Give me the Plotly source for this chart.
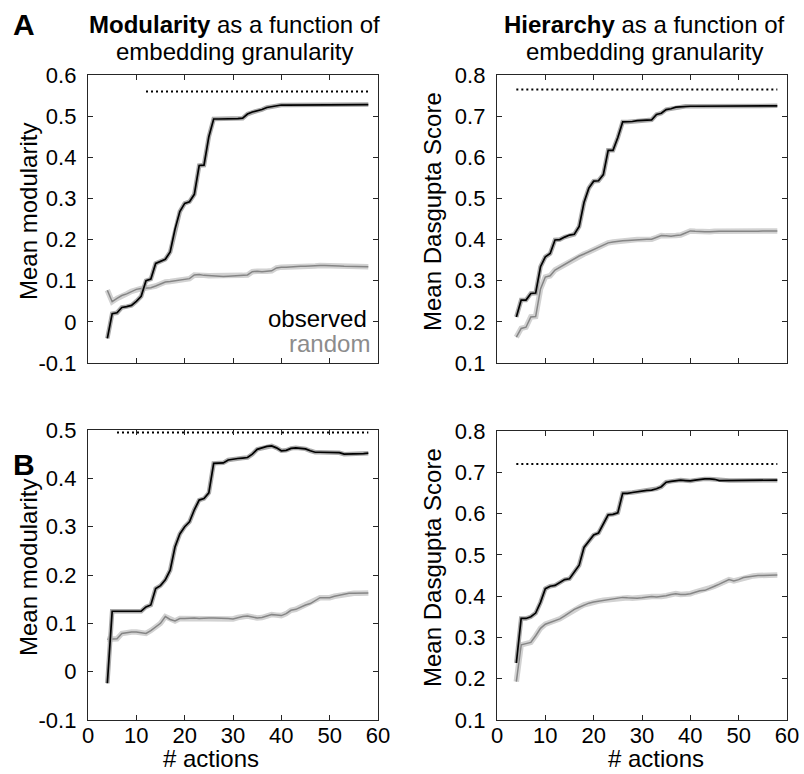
import plotly.graph_objects as go

W, H = 804, 774

# ---------------- data ----------------
actions = list(range(4, 59))  # 4..58

mod_a_observed = [-0.040, 0.020, 0.022, 0.035, 0.037, 0.040, 0.050, 0.062, 0.100, 0.104,
                  0.142, 0.148, 0.152, 0.170, 0.225, 0.268, 0.288, 0.292, 0.310, 0.380,
                  0.381, 0.450, 0.493, 0.493, 0.493, 0.493, 0.494, 0.494, 0.495, 0.505,
                  0.510, 0.513, 0.516, 0.521, 0.523, 0.526, 0.527, 0.527, 0.527, 0.527,
                  0.527, 0.527, 0.527, 0.527, 0.527, 0.527, 0.527, 0.527, 0.527, 0.527,
                  0.527, 0.528, 0.528, 0.528, 0.528]
mod_a_random = [0.077, 0.049, 0.057, 0.064, 0.068, 0.074, 0.079, 0.081, 0.082, 0.083,
                0.087, 0.092, 0.097, 0.098, 0.100, 0.102, 0.103, 0.105, 0.114, 0.115,
                0.113, 0.112, 0.112, 0.111, 0.110, 0.111, 0.112, 0.112, 0.113, 0.114,
                0.122, 0.123, 0.122, 0.123, 0.124, 0.131, 0.133, 0.133, 0.134, 0.134,
                0.135, 0.135, 0.136, 0.136, 0.137, 0.137, 0.137, 0.136, 0.136, 0.135,
                0.135, 0.135, 0.134, 0.134, 0.134]

hier_a_observed = [0.212, 0.253, 0.253, 0.269, 0.270, 0.334, 0.358, 0.366, 0.399, 0.400,
                   0.406, 0.411, 0.413, 0.432, 0.490, 0.525, 0.542, 0.543, 0.558, 0.617,
                   0.617, 0.648, 0.686, 0.686, 0.687, 0.689, 0.690, 0.690, 0.691, 0.704,
                   0.707, 0.716, 0.718, 0.722, 0.723, 0.724, 0.724, 0.724, 0.724, 0.724,
                   0.724, 0.724, 0.724, 0.724, 0.724, 0.724, 0.724, 0.724, 0.724, 0.724,
                   0.724, 0.725, 0.725, 0.725, 0.725]
hier_a_random = [0.163, 0.184, 0.187, 0.212, 0.213, 0.280, 0.309, 0.312, 0.326, 0.333,
                 0.340, 0.347, 0.354, 0.360, 0.365, 0.370, 0.376, 0.381, 0.386, 0.392,
                 0.394, 0.396, 0.397, 0.398, 0.399, 0.400, 0.400, 0.401, 0.401, 0.405,
                 0.410, 0.409, 0.408, 0.410, 0.411, 0.416, 0.421, 0.420, 0.419, 0.419,
                 0.419, 0.420, 0.420, 0.420, 0.420, 0.420, 0.419, 0.419, 0.420, 0.420,
                 0.420, 0.421, 0.421, 0.421, 0.421]

mod_b_observed = [-0.024, 0.125, 0.125, 0.125, 0.125, 0.125, 0.124, 0.125, 0.134, 0.138,
                  0.172, 0.178, 0.190, 0.210, 0.258, 0.285, 0.300, 0.310, 0.335, 0.355,
                  0.358, 0.370, 0.431, 0.431, 0.432, 0.438, 0.440, 0.441, 0.442, 0.443,
                  0.450, 0.460, 0.463, 0.466, 0.467, 0.463, 0.457, 0.458, 0.462, 0.463,
                  0.462, 0.461, 0.457, 0.454, 0.454, 0.454, 0.454, 0.454, 0.453, 0.450,
                  0.450, 0.450, 0.450, 0.451, 0.452]
mod_b_random = [0.067, 0.068, 0.068, 0.079, 0.081, 0.082, 0.082, 0.080, 0.079, 0.085,
                0.093, 0.100, 0.114, 0.108, 0.105, 0.110, 0.110, 0.111, 0.111, 0.110,
                0.111, 0.111, 0.111, 0.111, 0.110, 0.110, 0.109, 0.112, 0.114, 0.115,
                0.113, 0.111, 0.112, 0.115, 0.118, 0.117, 0.116, 0.120, 0.127, 0.129,
                0.134, 0.138, 0.141, 0.147, 0.153, 0.153, 0.153, 0.156, 0.158, 0.160,
                0.162, 0.162, 0.162, 0.162, 0.163]

hier_b_observed = [0.238, 0.346, 0.346, 0.350, 0.359, 0.385, 0.418, 0.424, 0.426, 0.432,
                   0.440, 0.442, 0.458, 0.475, 0.518, 0.532, 0.548, 0.553, 0.575, 0.597,
                   0.598, 0.602, 0.649, 0.649, 0.651, 0.653, 0.655, 0.656, 0.657, 0.660,
                   0.665, 0.676, 0.678, 0.680, 0.681, 0.680, 0.679, 0.681, 0.683, 0.684,
                   0.684, 0.683, 0.680, 0.680, 0.680, 0.680, 0.680, 0.680, 0.681, 0.681,
                   0.681, 0.680, 0.680, 0.681, 0.681]
hier_b_random = [0.193, 0.282, 0.285, 0.288, 0.304, 0.322, 0.332, 0.336, 0.340, 0.345,
                 0.352, 0.360, 0.368, 0.373, 0.379, 0.383, 0.386, 0.388, 0.390, 0.391,
                 0.393, 0.395, 0.397, 0.396, 0.395, 0.395, 0.396, 0.398, 0.399, 0.398,
                 0.399, 0.401, 0.404, 0.406, 0.404, 0.404, 0.406, 0.410, 0.413, 0.414,
                 0.420, 0.424, 0.429, 0.434, 0.440, 0.437, 0.440, 0.445, 0.447, 0.449,
                 0.450, 0.450, 0.450, 0.450, 0.451]

# dotted reference levels: (start, end, level)
ref_mod_a = [12, 58, 0.560]
ref_hier_a = [4, 58, 0.765]
ref_mod_b = [6, 58, 0.495]
ref_hier_b = [4, 58, 0.720]

x_ticks = [0, 10, 20, 30, 40, 50, 60]
mod_ticks = [-0.1, 0, 0.1, 0.2, 0.3, 0.4, 0.5, 0.6]
mod_ticktext = ["-0.1", "0", "0.1", "0.2", "0.3", "0.4", "0.5", "0.6"]
hier_ticks = [0.1, 0.2, 0.3, 0.4, 0.5, 0.6, 0.7, 0.8]
hier_ticktext = ["0.1", "0.2", "0.3", "0.4", "0.5", "0.6", "0.7", "0.8"]

FONT = "Liberation Sans, Arial, Helvetica, sans-serif"
AXCOL = "#262626"


def px(x):
    return x / W


def py(y):
    return 1 - y / H


panels = [
    ("", (88, 378), (75, 363), mod_a_observed, mod_a_random, ref_mod_a, [-0.1, 0.6], mod_ticks, mod_ticktext, False),
    ("2", (497, 787), (75, 363), hier_a_observed, hier_a_random, ref_hier_a, [0.1, 0.8], hier_ticks, hier_ticktext, False),
    ("3", (88, 378), (430, 720), mod_b_observed, mod_b_random, ref_mod_b, [-0.1, 0.5], mod_ticks[:-1], mod_ticktext[:-1], True),
    ("4", (497, 787), (431, 720), hier_b_observed, hier_b_random, ref_hier_b, [0.1, 0.8], hier_ticks, hier_ticktext, True),
]

fig = go.Figure()
layout_axes = {}
for suf, (x0, x1), (y0, y1), obs, rnd, ref, yr, yt, ytt, showx in panels:
    xa = "x" + suf
    ya = "y" + suf
    fig.add_trace(go.Scatter(x=[ref[0], ref[1]], y=[ref[2], ref[2]], mode="lines",
                             line=dict(color="#000000", width=2, dash="2px,3px"),
                             xaxis=xa, yaxis=ya, showlegend=False, hoverinfo="skip"))
    fig.add_trace(go.Scatter(x=actions, y=rnd, mode="lines",
                             line=dict(color="#d2d2d2", width=5.5),
                             xaxis=xa, yaxis=ya, showlegend=False, hoverinfo="skip"))
    fig.add_trace(go.Scatter(x=actions, y=rnd, mode="lines",
                             line=dict(color="#858585", width=1.5),
                             xaxis=xa, yaxis=ya, showlegend=False, name="random"))
    fig.add_trace(go.Scatter(x=actions, y=obs, mode="lines",
                             line=dict(color="#aaaaaa", width=4.5),
                             xaxis=xa, yaxis=ya, showlegend=False, hoverinfo="skip"))
    fig.add_trace(go.Scatter(x=actions, y=obs, mode="lines",
                             line=dict(color="#000000", width=1.7),
                             xaxis=xa, yaxis=ya, showlegend=False, name="observed"))

    layout_axes["xaxis" + suf] = dict(
        domain=[px(x0), px(x1)], anchor=ya, range=[0, 60], automargin=False,
        tickvals=x_ticks, showticklabels=showx, ticks="inside", ticklen=5,
        tickcolor=AXCOL, tickwidth=1, showline=True, linecolor=AXCOL, linewidth=1.3,
        mirror="ticks", showgrid=False, zeroline=False,
        tickfont=dict(family=FONT, size=22, color="#000000"), ticklabelstandoff=-5,
    )
    layout_axes["yaxis" + suf] = dict(
        domain=[py(y1), py(y0)], anchor=xa, range=yr, automargin=False,
        tickvals=yt, ticktext=ytt, ticks="inside", ticklen=5,
        tickcolor=AXCOL, tickwidth=1, showline=True, linecolor=AXCOL, linewidth=1.3,
        mirror="ticks", showgrid=False, zeroline=False,
        tickfont=dict(family=FONT, size=22, color="#000000"), ticklabelstandoff=6,
    )

annotations = []


def add_text(text, x, y, size=24, color="#000000", angle=0, xanchor="center", yanchor="middle"):
    annotations.append(dict(text=text, x=px(x), y=py(y), xref="paper", yref="paper",
                            showarrow=False, textangle=angle, xanchor=xanchor, yanchor=yanchor,
                            font=dict(family=FONT, size=size, color=color)))


add_text("<b>A</b>", 24, 25, size=30)
add_text("<b>B</b>", 24, 465, size=30)
add_text("<b>Modularity</b> as a function of", 234, 24)
add_text("embedding granularity", 234, 51)
add_text("<b>Hierarchy</b> as a function of", 644, 24)
add_text("embedding granularity", 644, 51)
add_text("Mean modularity", 28, 212, angle=-90)
add_text("Mean modularity", 28, 568, angle=-90)
add_text("Mean Dasgupta Score", 432, 212, angle=-90)
add_text("Mean Dasgupta Score", 432, 568, angle=-90)
add_text("# actions", 211, 758)
add_text("# actions", 656, 758)
add_text("observed", 369, 318, xanchor="right")
add_text("random", 372, 343, color="#8c8c8c", xanchor="right")

fig.update_layout(
    template="none",
    width=W, height=H, autosize=False,
    margin=dict(l=0, r=0, t=0, b=0, pad=0, autoexpand=False),
    paper_bgcolor="white", plot_bgcolor="white",
    showlegend=False,
    annotations=annotations,
    **layout_axes,
)

fig.write_html(
    "out.html",
    config={"displayModeBar": False},
    post_script="document.body.style.margin='0px';document.body.style.overflow='hidden';",
)
